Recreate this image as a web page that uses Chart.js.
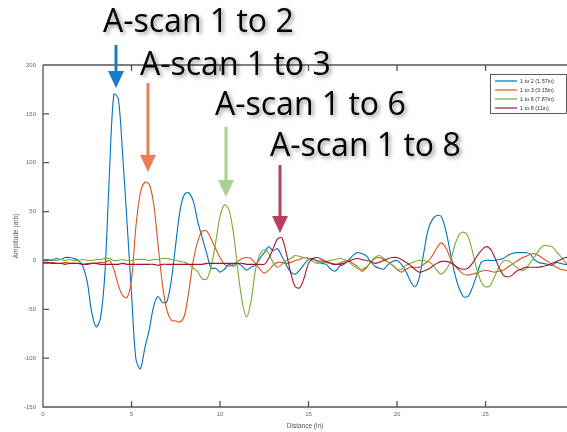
<!DOCTYPE html>
<html>
<head>
<meta charset="utf-8">
<title>A-scan comparison</title>
<script src="https://cdn.jsdelivr.net/npm/chart.js"></script>
<style>
  html, body { margin: 0; padding: 0; background: #fff; }
  #chart { display: block; }
</style>
</head>
<body>
<canvas id="chart" width="567" height="432"></canvas>
<script>
  // distance along the plate (in), 0.25 in spacing
  const distance = [
    0, 0.25, 0.5, 0.75, 1, 1.25, 1.5, 1.75,
    2, 2.25, 2.5, 2.75, 3, 3.25, 3.5, 3.75,
    4, 4.25, 4.5, 4.75, 5, 5.25, 5.5, 5.75,
    6, 6.25, 6.5, 6.75, 7, 7.25, 7.5, 7.75,
    8, 8.25, 8.5, 8.75, 9, 9.25, 9.5, 9.75,
    10, 10.25, 10.5, 10.75, 11, 11.25, 11.5, 11.75,
    12, 12.25, 12.5, 12.75, 13, 13.25, 13.5, 13.75,
    14, 14.25, 14.5, 14.75, 15, 15.25, 15.5, 15.75,
    16, 16.25, 16.5, 16.75, 17, 17.25, 17.5, 17.75,
    18, 18.25, 18.5, 18.75, 19, 19.25, 19.5, 19.75,
    20, 20.25, 20.5, 20.75, 21, 21.25, 21.5, 21.75,
    22, 22.25, 22.5, 22.75, 23, 23.25, 23.5, 23.75,
    24, 24.25, 24.5, 24.75, 25, 25.25, 25.5, 25.75,
    26, 26.25, 26.5, 26.75, 27, 27.25, 27.5, 27.75,
    28, 28.25, 28.5, 28.75, 29, 29.25, 29.5, 29.75
  ];

  const scan1to2 = [
    0, 1, 0, 2, 1, 3, 3, 2,
    0, -6, -22, -53, -68, -59, -12, 88,
    170, 166, 108, 38, -34, -101, -111, -90,
    -71, -47, -37, -43, -42, -20, 17, 52,
    68, 69, 60, 39, 23, 7, -8, -8,
    -12, -9, -4, -6, -3, -6, -10, -7,
    -5, 2, 8, 14, 10, 12, 4, -5,
    -12, -14, -10, -4, 1, 2, -1, -3,
    -4, -9, -11, -6, -4, 0, 5, 8,
    7, 5, -1, -6, -8, -9, -4, -1,
    0, -4, -11, -21, -27, -18, 7, 31,
    42, 46, 45, 31, 9, -13, -28, -37,
    -37, -28, -15, -2, 0, 0, 0, 1,
    2, 5, 7, 8, 8, 8, 7, 1,
    -2, -3, -4, -5, -2, -3, -4, -4
  ];

  const scan1to3 = [
    -3, -3, -2, -3, -3, -2, -3, -3,
    -3, -4, -3, -3, -3, -2, -2, 0,
    -9, -25, -36, -38, -20, 35, 69, 80,
    78, 58, 16, -25, -51, -61, -62, -63,
    -56, -30, 1, 20, 30, 30, 22, 12,
    3, -4, -6, -4, -1, 2, 3, 2,
    -3, -9, -13, -10, -5, -2, -2, -3,
    -2, 0, 1, 3, 2, 1, 0, -1,
    -2, -3, -4, -3, -1, 0, -3, -6,
    -11, -8, -2, 2, 3, 1, -2, -5,
    -9, -12, -9, -7, -7, -7, -4, -1,
    5, 13, 18, 13, 3, -5, -10, -14,
    -15, -14, -13, -11, -10, -11, -12, -11,
    -10, -7, -4, -1, 2, 4, 6, 7,
    5, 2, -1, -4, -7, -9, -10, -11
  ];

  const scan1to6 = [
    0, 0, 1, 0, 1, 0, 1, 0,
    0, 1, 0, 0, 1, 1, 2, 2,
    0, 0, 1, 0, 0, 1, 1, 1,
    0, 1, 1, 2, 2, 1, 0, -1,
    -2, -4, -8, -12, -19, -19, -6, 18,
    45, 57, 52, 29, -9, -42, -58, -42,
    -10, 6, 11, 7, -2, -7, -4, 0,
    2, 5, 4, 3, 2, -1, -3, -2,
    -1, 0, 1, 2, 1, -1, -5, -8,
    -9, -7, -2, 3, 5, 2, -2, -5,
    -9, -9, -5, -3, -1, 0, 0, -1,
    -4, -10, -14, -10, -2, 15, 26, 29,
    25, 10, -9, -22, -27, -26, -17, -7,
    -1, 0, -3, -7, -10, -9, -3, 3,
    10, 15, 15, 14, 9, 4, -2, -5
  ];

  const scan1to8 = [
    -2, -2, -3, -3, -3, -4, -3, -3,
    -3, -4, -4, -3, -3, -4, -4, -4,
    -4, -4, -3, -4, -4, -4, -4, -4,
    -4, -4, -5, -4, -4, -4, -4, -4,
    -4, -4, -4, -4, -4, -3, -3, -3,
    -3, -3, -3, -3, -3, -3, -4, -4,
    -4, -4, -4, 2, 12, 22, 23, 7,
    -13, -27, -28, -18, -3, 2, 3, 1,
    -1, -3, -4, -4, -3, -1, 1, 2,
    1, 0, -1, -3, -2, 0, 2, 3,
    3, 1, -2, -5, -9, -12, -11, -9,
    -6, -3, -1, -1, -2, -5, -8, -9,
    -8, -3, 4, 10, 14, 12, 4, -7,
    -15, -17, -15, -11, -9, -7, -7, -7,
    -7, -6, -5, -3, -1, 1, 3, 3
  ];

  const seriesLabels = ["1 to 2 (1.57in)", "1 to 3 (3.15in)", "1 to 6 (7.87in)", "1 to 8 (11in)"];
  const seriesColors = ["#0072BD", "#D95319", "#77AC30", "#A2142F"];
  const xTicks = [0, 5, 10, 15, 20, 25];
  const yTicks = [-150, -100, -50, 0, 50, 100, 150, 200];

  // big call-out labels with their arrows (pixel layout)
  const callouts = [
    { text: "A-scan 1 to 2", tx: 103, ty: 32, ax: 116, top: 45, tip: 88, color: "#1c7cc8" },
    { text: "A-scan 1 to 3", tx: 140, ty: 75, ax: 148, top: 83, tip: 172, color: "#ea8058" },
    { text: "A-scan 1 to 6", tx: 215, ty: 115, ax: 226, top: 127, tip: 197, color: "#a9d18e" },
    { text: "A-scan 1 to 8", tx: 270, ty: 156, ax: 280, top: 165, tip: 233, color: "#b73f5c" }
  ];

  const series = [scan1to2, scan1to3, scan1to6, scan1to8];

  const framePlugin = {
    id: "frame",
    afterDatasetsDraw(chart) {
      const { ctx, chartArea: a, scales } = chart;
      ctx.save();
      ctx.strokeStyle = "#555";
      ctx.lineWidth = 1.3;
      ctx.beginPath();
      ctx.moveTo(a.left, a.top);
      ctx.lineTo(a.right, a.top);
      ctx.moveTo(a.left, a.top);
      ctx.lineTo(a.left, a.bottom);
      ctx.lineTo(a.right, a.bottom);
      xTicks.forEach((v) => {
        const px = scales.x.getPixelForValue(v);
        ctx.moveTo(px, a.bottom);
        ctx.lineTo(px, a.bottom - 6);
        ctx.moveTo(px, a.top);
        ctx.lineTo(px, a.top + 6);
      });
      yTicks.forEach((v) => {
        const py = scales.y.getPixelForValue(v);
        ctx.moveTo(a.left, py);
        ctx.lineTo(a.left + 6, py);
      });
      ctx.stroke();

      // legend box inside the plot
      ctx.fillStyle = "#fff";
      ctx.fillRect(490, 74, 76, 40);
      ctx.lineWidth = 0.8;
      ctx.strokeStyle = "#333";
      ctx.strokeRect(490.5, 74.5, 76, 39);
      ctx.font = '5.5px "Liberation Sans", Arial, sans-serif';
      ctx.textBaseline = "middle";
      seriesLabels.forEach((label, i) => {
        const ly = 81 + i * 9;
        ctx.strokeStyle = seriesColors[i];
        ctx.lineWidth = 1.2;
        ctx.beginPath();
        ctx.moveTo(495, ly);
        ctx.lineTo(517, ly);
        ctx.stroke();
        ctx.fillStyle = "#333";
        ctx.fillText(label, 520, ly);
      });
      ctx.restore();
    },
    afterDraw(chart) {
      const ctx = chart.ctx;
      ctx.save();
      callouts.forEach((c) => {
        ctx.fillStyle = c.color;
        ctx.fillRect(c.ax - 1.5, c.top, 3, c.tip - c.top - 14);
        ctx.beginPath();
        ctx.moveTo(c.ax - 8, c.tip - 17);
        ctx.lineTo(c.ax + 8, c.tip - 17);
        ctx.lineTo(c.ax, c.tip);
        ctx.closePath();
        ctx.fill();
      });
      ctx.font = '32px "Open Sans", sans-serif';
      ctx.textBaseline = "alphabetic";
      ctx.shadowColor = "rgba(0,0,0,0.45)";
      ctx.shadowBlur = 4;
      ctx.shadowOffsetX = 2;
      ctx.shadowOffsetY = 2;
      ctx.fillStyle = "#000";
      callouts.forEach((c) => ctx.fillText(c.text, c.tx, c.ty));
      ctx.restore();
    }
  };

  const tickFont = { family: '"Liberation Sans", Arial, sans-serif', size: 6 };

  new Chart(document.getElementById("chart"), {
    type: "line",
    data: {
      datasets: series.map((vals, i) => ({
        label: seriesLabels[i],
        data: distance.map((d, j) => ({ x: d, y: vals[j] })),
        borderColor: seriesColors[i],
        borderWidth: 1.1,
        pointRadius: 0,
        tension: 0.3,
        fill: false,
        order: series.length - i
      }))
    },
    options: {
      responsive: false,
      animation: false,
      layout: { padding: { top: 65, right: 0, bottom: 0, left: 0 } },
      plugins: { legend: { display: false }, tooltip: { enabled: false } },
      scales: {
        x: {
          type: "linear",
          min: 0,
          max: 29.6,
          afterBuildTicks: (s) => { s.ticks = xTicks.map((v) => ({ value: v })); },
          afterFit: (s) => { s.height = 25; },
          grid: { display: false, drawTicks: false },
          border: { display: false },
          ticks: { font: tickFont, color: "#666", padding: 4, maxRotation: 0 },
          title: {
            display: true,
            text: "Distance (in)",
            font: { family: tickFont.family, size: 6.5 },
            color: "#555",
            padding: { top: 0, bottom: 2 }
          }
        },
        y: {
          min: -150,
          max: 200,
          afterBuildTicks: (s) => { s.ticks = yTicks.map((v) => ({ value: v })); },
          afterFit: (s) => { s.width = 43; },
          grid: { display: false, drawTicks: false },
          border: { display: false },
          ticks: { font: tickFont, color: "#666", padding: 7 },
          title: {
            display: true,
            text: "Amplitude (arb)",
            font: { family: tickFont.family, size: 6.5 },
            color: "#555",
            padding: { top: 12, bottom: 0 }
          }
        }
      }
    },
    plugins: [framePlugin]
  });
</script>
</body>
</html>
